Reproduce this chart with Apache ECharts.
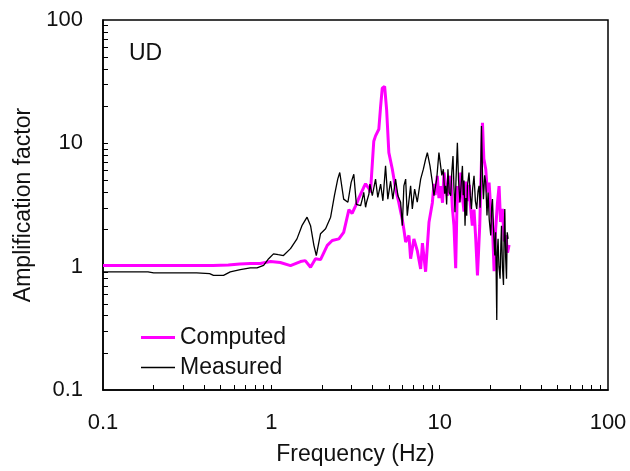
<!DOCTYPE html>
<html>
<head>
<meta charset="utf-8">
<script src="https://cdn.jsdelivr.net/npm/echarts@6/dist/echarts.min.js"></script>
<style>
  html, body { margin: 0; padding: 0; background: #fff; }
  #chart { width: 630px; height: 471px; }
</style>
</head>
<body>
<div id="chart"></div>
<script>
var computedFreq = [0.1, 0.2, 0.3, 0.45, 0.555, 0.65, 0.75, 0.86, 0.99, 1.13, 1.30, 1.49, 1.59, 1.71, 1.83, 1.96,
    2.15, 2.30, 2.52, 2.69, 2.89, 3.02, 3.16, 3.31, 3.39, 3.54, 3.63, 3.71, 3.80, 3.88, 4.06, 4.16, 4.35, 4.46,
    4.56, 4.71, 4.84, 4.99, 5.23, 5.47, 5.72, 6.0, 6.13, 6.28, 6.57, 6.72, 7.03, 7.36, 7.71, 7.9, 8.06, 8.25,
    8.64, 9.05, 9.25, 9.4, 9.68, 9.9, 10.14, 10.4, 10.61, 10.9, 11.1, 11.4, 11.63, 11.9, 12.16, 12.45, 12.74,
    13.0, 13.34, 13.6, 13.95, 14.3, 14.62, 15.0, 15.2, 15.63, 16.0, 16.38, 16.77, 17.3, 17.96, 18.3, 18.78,
    19.2, 19.66, 20.1, 20.59, 21.05, 21.5, 22.05, 22.54, 23.0, 23.59, 24.2, 24.72, 25.3, 25.85];
var computedAmp = [1.02, 1.02, 1.02, 1.02, 1.03, 1.05, 1.06, 1.06, 1.10, 1.08, 1.02, 1.10, 1.12, 0.99, 1.16, 1.14,
    1.49, 1.63, 1.68, 1.90, 2.9, 2.7, 3.1, 3.6, 3.5, 4.4, 4.7, 4.8, 4.3, 4.0, 10.4, 11.5, 13.0, 20,
    28, 29, 18.8, 8.4, 6.2, 4.3, 3.3, 2.4, 2.0, 1.58, 1.79, 1.16, 1.68, 1.35, 0.96, 1.55, 1.58, 0.91,
    2.29, 3.3, 4.7, 3.8, 5.45, 3.6, 4.5, 3.3, 5.8, 4.4, 3.75, 5.0, 5.45, 3.0, 2.15, 0.97, 4.5,
    3.3, 5.8, 3.9, 2.8, 4.9, 3.4, 4.6, 3.2, 2.15, 2.9, 1.68, 0.85, 2.15, 14.7, 7.5, 6.17,
    4.0, 4.8, 3.0, 2.15, 0.92, 2.0, 3.3, 4.5, 2.3, 2.94, 1.6, 1.8, 1.3, 1.5];

var measuredFreq = [0.1, 0.185, 0.2, 0.36, 0.43, 0.453, 0.52, 0.57, 0.654, 0.75, 0.822, 0.90, 0.964, 1.03, 1.10,
    1.18, 1.30, 1.42, 1.52, 1.63, 1.71, 1.79, 1.85, 1.96, 2.10, 2.25, 2.37, 2.48, 2.55, 2.69, 2.85, 2.98, 3.09,
    3.2, 3.39, 3.47, 3.54, 3.63, 3.68, 3.80, 3.85, 3.98, 4.16, 4.29, 4.46, 4.60, 4.77, 4.92, 5.11, 5.27, 5.47,
    5.65, 5.86, 6.0, 6.13, 6.28, 6.42, 6.72, 6.88, 7.10, 7.36, 7.71, 8.0, 8.25, 8.45, 8.76,
    9.05, 9.25, 9.60, 9.90, 10.14, 10.3, 10.52, 10.7, 10.86, 11.0, 11.2, 11.4, 11.63, 11.8, 12.0, 12.15, 12.33,
    12.5, 12.74, 12.95, 13.2, 13.45, 13.65, 13.8, 13.95, 14.15, 14.3, 14.48, 14.62, 14.94, 15.2, 15.44, 15.7,
    16.0, 16.3, 16.6, 16.9, 17.14, 17.4, 17.71, 18.0, 18.2, 18.5, 18.78, 19.1, 19.39, 19.7, 20.12, 20.35, 20.59,
    20.9, 21.25, 21.5, 21.84, 22.0, 22.23, 22.5, 22.85, 23.1, 23.30, 23.6, 23.94, 24.15, 24.37, 24.65, 24.95,
    25.2, 25.5];
var measuredAmp = [0.906, 0.906, 0.89, 0.889, 0.878, 0.851, 0.851, 0.906, 0.946, 0.976, 0.976, 1.024, 1.16, 1.27, 1.25,
    1.23, 1.40, 1.68, 2.15, 2.52, 2.15, 1.49, 1.23, 1.85, 2.03, 2.52, 3.76, 5.13, 5.80, 3.53, 3.33, 4.82, 5.62,
    3.2, 3.12, 3.53, 4.0, 3.03, 3.33, 3.88, 4.67, 3.76, 5.13, 3.65, 4.67, 3.42, 6.56, 3.53, 4.93, 3.53, 5.13,
    3.76, 3.33, 2.15, 4.52, 5.13, 2.59, 4.52, 2.94, 4.26, 3.33, 5.13, 6.17, 7.43, 8.41, 6.56,
    4.82, 3.76, 5.13, 8.41, 8.67, 5.5, 6.17, 3.9, 4.52, 3.2, 6.17, 4.0, 3.76, 5.8, 7.90, 4.5, 2.76,
    5.0, 10.1, 5.0, 3.33, 4.9, 6.56, 3.8, 5.0, 2.15, 3.6, 2.59, 4.52, 5.80, 3.8, 2.94, 4.3,
    5.45, 3.4, 2.94, 4.1, 4.52, 3.0, 13.8, 5.0, 3.53, 5.5, 4.82, 2.6, 4.0, 2.4, 1.79, 3.0, 3.53,
    2.0, 1.23, 1.9, 0.37, 1.3, 1.68, 1.0, 0.80, 1.5, 2.15, 1.0, 0.71, 1.8, 2.94, 1.2, 0.80,
    1.9, 1.68];

var minorTicks = [0.2, 0.3, 0.4, 0.5, 0.6, 0.7, 0.8, 0.9, 1, 2, 3, 4, 5, 6, 7, 8, 9, 10,
    20, 30, 40, 50, 60, 70, 80, 90];
var decadeLabels = [0.1, 1, 10, 100];

function pairs(xs, ys) {
    var res = [];
    xs.forEach(function (x, i) { res.push([x, ys[i]]); });
    return res;
}

var mychart = echarts.init(document.getElementById('chart'));
var font = 'Liberation Sans, Arial, sans-serif';

var option = {
    animation: false,
    title: {
        text: 'UD',
        left: 124,
        top: 37,
        textStyle: { fontFamily: font, fontSize: 23, fontWeight: 'normal', color: '#111' }
    },
    legend: [{
        left: 136,
        top: 321,
        itemWidth: 34,
        itemHeight: 3,
        itemGap: 5,
        icon: 'rect',
        textStyle: { fontFamily: font, fontSize: 23, color: '#111' },
        data: ['Computed']
    }, {
        left: 136,
        top: 351,
        itemWidth: 34,
        itemHeight: 1.5,
        itemGap: 5,
        icon: 'rect',
        textStyle: { fontFamily: font, fontSize: 23, color: '#111' },
        data: ['Measured']
    }],
    grid: {
        left: 103,
        right: 22,
        top: 20,
        bottom: 79,
        show: true,
        borderColor: '#000',
        borderWidth: 1.5,
        backgroundColor: 'transparent'
    },
    xAxis: {
        type: 'log',
        logBase: 10,
        min: 0.1,
        max: 100,
        name: 'Frequency (Hz)',
        nameLocation: 'middle',
        nameGap: 53,
        nameTextStyle: { fontFamily: font, fontSize: 23, color: '#111' },
        axisLine: { show: true, lineStyle: { color: '#000', width: 1.5 } },
        axisTick: { show: true, inside: true, length: 5, customValues: minorTicks, lineStyle: { color: '#000' } },
        axisLabel: {
            customValues: decadeLabels,
            margin: 22,
            fontFamily: font, fontSize: 22, color: '#111',
            formatter: function (v) { return String(v); }
        },
        splitLine: { show: false }
    },
    yAxis: {
        type: 'log',
        logBase: 10,
        min: 0.1,
        max: 100,
        name: 'Amplification factor',
        nameLocation: 'middle',
        nameGap: 66,
        nameTextStyle: { fontFamily: font, fontSize: 23, color: '#111' },
        axisLine: { show: true, lineStyle: { color: '#000', width: 1.5 } },
        axisTick: { show: true, inside: true, length: 5, customValues: minorTicks, lineStyle: { color: '#000' } },
        axisLabel: {
            customValues: decadeLabels,
            margin: 20,
            fontFamily: font, fontSize: 22, color: '#111',
            formatter: function (v) { return String(v); }
        },
        splitLine: { show: false }
    },
    series: [{
        name: 'Computed',
        type: 'line',
        showSymbol: false,
        data: pairs(computedFreq, computedAmp),
        lineStyle: { color: '#ff00ff', width: 3 },
        itemStyle: { color: '#ff00ff' }
    }, {
        name: 'Measured',
        type: 'line',
        showSymbol: false,
        data: pairs(measuredFreq, measuredAmp),
        lineStyle: { color: '#000', width: 1.3 },
        itemStyle: { color: '#000' }
    }]
};
mychart.setOption(option);
</script>
</body>
</html>
